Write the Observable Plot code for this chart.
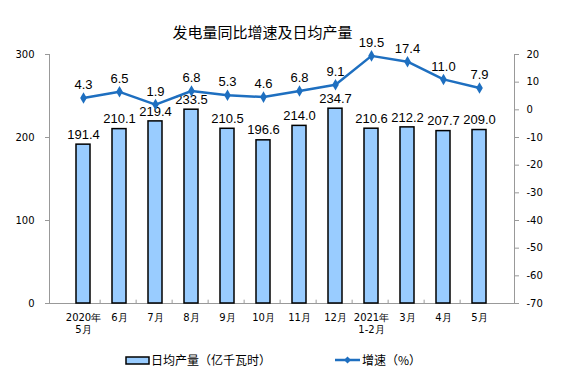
<!DOCTYPE html>
<html><head><meta charset="utf-8">
<script src="https://cdn.jsdelivr.net/npm/d3@7"></script>
<script src="https://cdn.jsdelivr.net/npm/@observablehq/plot@0.6"></script>
<style>
body{margin:0;background:#fff;}
#wrap{position:relative;width:561px;height:380px;overflow:hidden;font-family:"Noto Sans CJK SC",sans-serif;}
#title{position:absolute;top:21px;left:0;width:525px;text-align:center;font-size:15px;color:#000;}
#chart{position:absolute;top:0;left:0;}
#legend{position:absolute;top:351px;left:0;width:561px;font-size:12px;color:#000;}
.li{position:absolute;display:flex;align-items:center;}
</style></head>
<body><div id="wrap"><div id="chart"></div><div id="title">发电量同比增速及日均产量</div>
<div id="legend">
<div class="li" style="left:125px;"><svg width="26" height="12"><rect x="1" y="3" width="23" height="7" fill="#99ccff" stroke="#000" stroke-width="1.5"/></svg><span>日均产量（亿千瓦时）</span></div>
<div class="li" style="left:334px;"><svg width="28" height="12"><line x1="1" y1="6" x2="26" y2="6" stroke="#1e6fc0" stroke-width="2.5"/><path d="M13.5,2.5 L17,6 L13.5,9.5 L10,6Z" fill="#1e6fc0"/></svg><span>增速（%）</span></div>
</div></div>
<script>
const months = ["2020年\n5月","6月","7月","8月","9月","10月","11月","12月","2021年\n1-2月","3月","4月","5月"];
const output = [191.4,210.1,219.4,233.5,210.5,196.6,214.0,234.7,210.6,212.2,207.7,209.0];
const growth = [4.3,6.5,1.9,6.8,5.3,4.6,6.8,9.1,19.5,17.4,11.0,7.9];
const leftTicks = [0,100,200,300];
const rightTicks = [20,10,0,-10,-20,-30,-40,-50,-60,-70];

const toLeft = v => (v + 70) * 300 / 90;
const fromLeft = v => Math.round(v * 90 / 300 - 70);
const data = months.map((m,i)=>({month:m, output:output[i], growth:growth[i]}));
const blue = "#1e6fc0";
const tickFont = "DejaVu Sans";
const W = 561, mL = 49, mR = 47;
const halfBand = (W - mL - mR) / months.length / 2;

const chart = Plot.plot({
  width:W, height:345,
  marginTop:54, marginBottom:42, marginLeft:mL, marginRight:mR,
  style:{fontFamily:"Liberation Sans, Arial, sans-serif", overflow:"visible", background:"transparent"},
  x:{domain:months, padding:0.6, align:0.5},
  y:{domain:[0,300]},
  marks:[
    Plot.frame({anchor:"left", stroke:"#999"}),
    Plot.frame({anchor:"right", stroke:"#999"}),
    Plot.frame({anchor:"bottom", stroke:"#999"}),
    Plot.ruleX(months.slice(1),{x:d=>d, y1:0, y2:4, dx:-halfBand, stroke:"#999"}),
    Plot.barY(data,{x:"month", y:"output", fill:"#99ccff", stroke:"#000", strokeWidth:1.5}),
    Plot.text(data,{x:"month", y:"output", text:d=>d.output.toFixed(1), dy:-10, fontSize:13}),
    Plot.line(data,{x:"month", y:d=>toLeft(d.growth), stroke:blue, strokeWidth:2.5}),
    Plot.dot(data,{x:"month", y:d=>toLeft(d.growth), symbol:"diamond", r:3.5, fill:blue}),
    Plot.text(data,{x:"month", y:d=>toLeft(d.growth), text:d=>d.growth.toFixed(1), dy:-13, fontSize:13}),
    Plot.axisY(leftTicks,{anchor:"left", tickSize:4, tickPadding:11, stroke:"#999", fontSize:10, fontFamily:tickFont, label:null}),
    Plot.axisY(rightTicks.map(toLeft),{anchor:"right", tickSize:4, tickPadding:8, stroke:"#999", fontSize:10, fontFamily:tickFont, tickFormat:fromLeft, label:null}),
    Plot.axisX({tickSize:0, tickPadding:9, fontSize:10, fontFamily:tickFont, label:null, lineHeight:1.2})
  ]
});
document.getElementById("chart").appendChild(chart);
</script></body></html>
